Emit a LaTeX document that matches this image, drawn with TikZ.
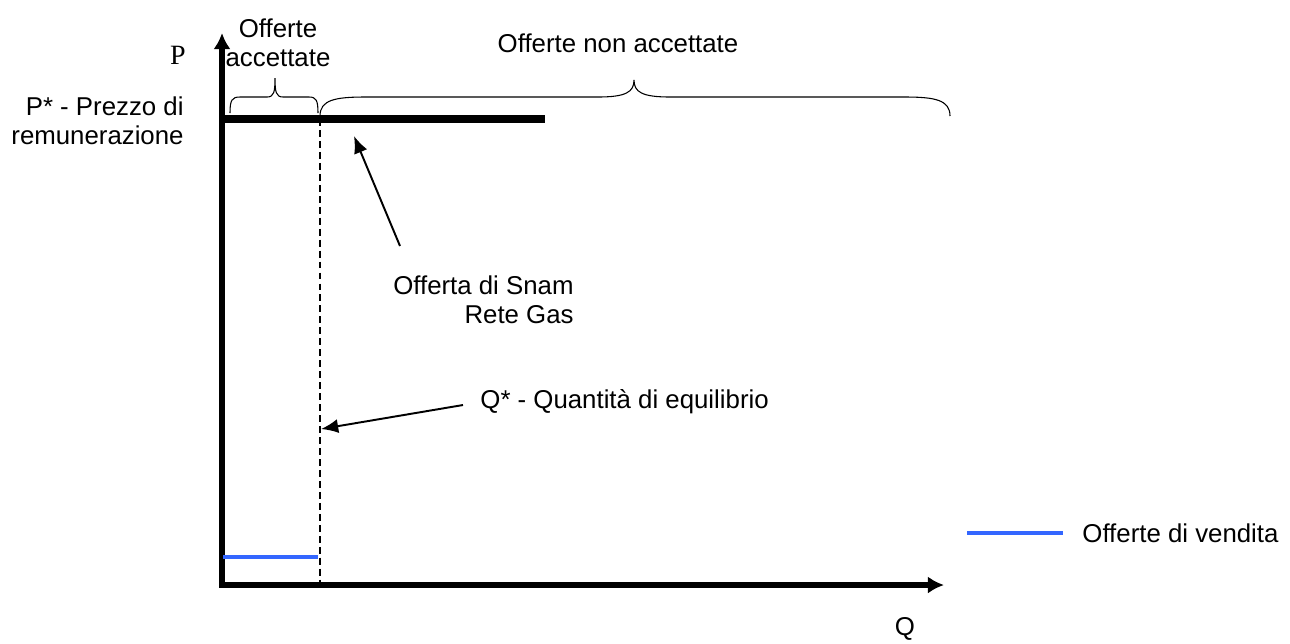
\documentclass[tikz,border=0pt]{standalone}
\usepackage{fontspec}
\setmainfont{Liberation Sans}
\newfontfamily\pfont{Liberation Serif}
\usetikzlibrary{arrows.meta}
\definecolor{offerblue}{RGB}{51,102,255}

\begin{document}
\begin{tikzpicture}[
	x=0.465pt, y=-0.465pt,
	every node/.style={inner sep=0pt, font=\fontsize{12}{13.8}\selectfont},
	axis/.style={line width=2.4pt, line cap=rect, -{Latex[length=7.5pt,width=8pt]}},
	priceline/.style={line width=3.3pt},
	offerline/.style={line width=2.3pt, draw=offerblue},
	qline/.style={line width=0.5pt, dash pattern=on 3.2pt off 1.9pt},
	pointer/.style={line width=0.9pt, -{Latex[length=8pt,width=6.5pt]}},
	bracket/.style={line width=0.5pt},
	]
	\useasboundingbox (0,0) rectangle (1290,643);
	\coordinate (origin) at (222,585);
	\coordinate (ytop) at (222,33);
	\coordinate (xend) at (944,585);
	\coordinate (pstarL) at (224,119);
	\coordinate (pstarR) at (545,119);
	\coordinate (qtop) at (320,119);
	\coordinate (qbot) at (320,585);
	\coordinate (blueL) at (223,557);
	\coordinate (blueR) at (318,557);
	\coordinate (legL) at (967,533);
	\coordinate (legR) at (1063,533);
	\coordinate (snamtail) at (400,246);
	\coordinate (snamtip) at (354,136);
	\coordinate (qtail) at (463,405);
	\coordinate (qtip) at (321,429);
	
	\draw[axis] (origin) -- (ytop);
	\draw[axis] (origin) -- (xend);
	\draw[qline] (qtop) -- (qbot);
	\draw[priceline] (pstarL) -- (pstarR);
	\draw[offerline] (blueL) -- (blueR);
	\draw[offerline] (legL) -- (legR);
	
	\draw[bracket] (230,113) .. controls (230,100) and (232,97) .. (240,97) -- (267,97)
		.. controls (274,97) and (275,92) .. (275,78) .. controls (275,92) and (276,97) .. (283,97)
		-- (309,97) .. controls (316,97) and (318,100) .. (318,113);
	\draw[bracket] (320,116) .. controls (320,100) and (335,97) .. (365,97) -- (598,97)
		.. controls (626,97) and (634,92) .. (634,80) .. controls (634,92) and (642,97) .. (670,97)
		-- (905,97) .. controls (935,97) and (950,100) .. (950,116);
	
	\node [anchor=base, font=\fontsize{13}{15}\pfont] (plabel) at (178,64) {P};
	\node [anchor=north east, align=right] (pstar) at (184,96) {P* - Prezzo di\\remunerazione};
	\node [anchor=north, align=center] (accepted) at (278,18) {Offerte\\accettate};
	\node [anchor=base] (rejected) at (618,52) {Offerte non accettate};
	\node [anchor=north east, align=right] (snam) at (574,275) {Offerta di Snam\\Rete Gas};
	\node [anchor=base west] (qstar) at (480,408) {Q* - Quantità di equilibrio};
	\node [anchor=base west] (legend) at (1082,542) {Offerte di vendita};
	\node [anchor=base] (qlabel) at (905,635) {Q};
	
	\draw[pointer] (snamtail) -- (snamtip);
	\draw[pointer] (qtail) -- (qtip);
\end{tikzpicture}
\end{document}
